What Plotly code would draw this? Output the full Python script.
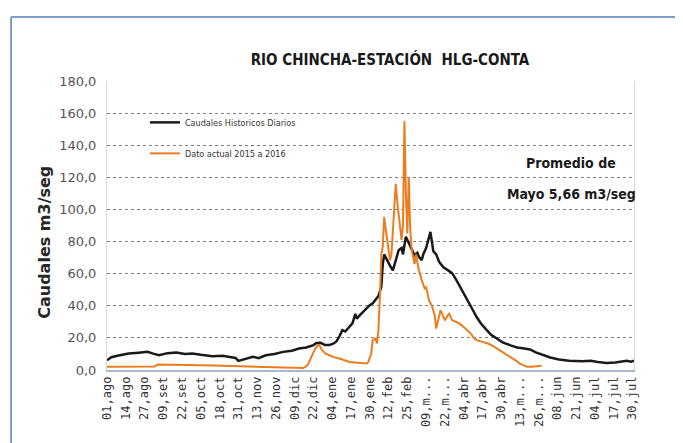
import plotly.graph_objects as go

# dia 0 = 01 ago 2015 ... dia 365 = 31 jul 2016
hist_dias = [0, 3, 8, 15, 22, 28, 32, 36, 42, 48, 54, 59, 65, 73, 80, 85, 89, 91, 95, 101,
             105, 110, 116, 122, 128, 133, 138, 143, 145, 148, 151, 154, 157, 159, 161, 163,
             165, 168, 170, 172, 173, 175, 178, 180, 182, 184, 186, 188, 190, 191, 192, 194,
             196, 198, 200, 202, 204, 205, 207, 209, 211, 213, 215, 216, 218, 219, 221, 223,
             224, 226, 228, 230, 233, 236, 239, 242, 246, 250, 253, 256, 259, 263, 266, 270,
             274, 279, 284, 288, 293, 297, 302, 307, 313, 320, 329, 335, 340, 346, 352, 356,
             360, 363, 365]
hist_caudal = [6.0, 8.0, 9.0, 10.3, 10.8, 11.3, 10.2, 9.2, 10.5, 10.9, 10.0, 10.3, 9.5, 8.6,
               8.8, 8.2, 7.5, 5.7, 6.8, 8.2, 7.4, 9.2, 10.0, 11.3, 12.0, 13.4, 14.0, 15.5,
               16.8, 16.9, 15.5, 15.5, 16.5, 18.0, 21.0, 24.8, 24.0, 26.9, 29.0, 35.0, 32.0,
               34.0, 37.0, 39.0, 40.4, 41.5, 43.5, 46.0, 52.0, 66.0, 72.0, 68.0, 65.0, 62.0,
               68.0, 74.6, 76.0, 72.0, 83.0, 79.0, 76.0, 71.5, 73.0, 70.5, 68.4, 72.0, 76.0,
               84.0, 86.0, 74.0, 72.0, 67.4, 64.0, 62.2, 60.3, 56.0, 49.7, 43.0, 38.0, 33.0,
               29.0, 24.8, 22.0, 19.6, 17.2, 15.5, 14.0, 13.5, 12.8, 11.0, 9.2, 7.8, 6.5, 5.8,
               5.5, 5.7, 5.0, 4.4, 4.6, 5.0, 5.7, 5.2, 5.8]

act_dias = [0, 10, 20, 33, 35, 45, 55, 65, 75, 85, 95, 105, 115, 125, 133, 136, 139, 141,
            142, 144, 146, 147, 149, 151, 154, 157, 161, 165, 168, 172, 178, 180, 181, 183,
            184, 185, 186, 187, 188, 189, 190, 191, 192, 193, 194, 195, 196, 197, 198, 199,
            200, 201, 202, 203, 204, 205, 206, 207, 208, 209, 210, 211, 212, 213, 214, 216,
            218, 220, 221, 223, 225, 227, 228, 229, 231, 233, 234, 236, 237, 239, 241, 244,
            247, 250, 252, 254, 256, 260, 264, 268, 272, 276, 279, 283, 286, 289, 291, 294,
            297, 301]
act_caudal = [2.0, 2.0, 2.0, 2.2, 3.4, 3.4, 3.2, 3.0, 2.8, 2.6, 2.3, 2.2, 2.0, 1.8, 1.5, 1.2,
              3.0, 7.0, 10.0, 13.0, 15.5, 15.5, 12.3, 10.5, 9.2, 8.0, 7.2, 6.0, 5.0, 4.6, 4.0,
              4.0, 5.0, 10.3, 18.6, 19.0, 19.6, 16.5, 25.0, 45.0, 72.0, 76.7, 95.4, 88.0, 80.9,
              74.0, 68.4, 72.0, 85.0, 100.0, 116.0, 105.0, 95.4, 86.0, 81.0, 90.0, 155.0,
              110.0, 85.0, 120.0, 88.0, 75.0, 70.5, 66.0, 72.0, 62.0, 56.0, 50.8, 51.8, 43.5,
              40.0, 34.0, 25.8, 30.0, 37.3, 33.0, 31.0, 34.0, 35.0, 31.0, 30.0, 29.0, 26.8,
              24.0, 22.7, 20.0, 18.6, 17.5, 16.5, 14.5, 12.3, 10.0, 8.2, 6.0, 4.0, 2.5, 2.0,
              2.0, 2.4, 2.6]

tick_dias = list(range(0, 365, 13))
tick_textos = ["01,ago", "14,ago", "27,ago", "09,set", "22,set", "05,oct", "18,oct",
               "31,oct", "13,nov", "26,nov", "09,dic", "22,dic", "04,ene", "17,ene",
               "30,ene", "12,feb", "25,feb", "09,m...", "22,m...", "04,abr", "17,abr",
               "30,abr", "13,m...", "26,m...", "08,jun", "21,jun", "04,jul", "17,jul",
               "30,jul"]

NARROW = "Liberation Sans Narrow, Arial Narrow, DejaVu Sans Condensed, sans-serif"

fig = go.Figure()
fig.add_trace(go.Scatter(x=hist_dias, y=hist_caudal, mode="lines",
                         name="Caudales Historicos Diarios", legendgroup="a",
                         line=dict(color="#1a1a1a", width=2.5)))
fig.add_trace(go.Scatter(x=act_dias, y=act_caudal, mode="lines",
                         name="Dato actual 2015 a 2016", legendgroup="b",
                         line=dict(color="#ec7c1e", width=2)))

# the page adds an 8px body margin, so the figure is 8px smaller than the window
fig.update_layout(
    width=675, height=435,
    margin=dict(l=99, r=49, t=73, b=73),
    paper_bgcolor="white", plot_bgcolor="white",
    separators=",.",
    title=dict(text="<b>RIO CHINCHA-ESTACIÓN  HLG-CONTA</b>", xref="paper",
               x=0.537, xanchor="center", y=0.8805, yanchor="middle",
               font=dict(family=NARROW, size=15, color="#1a1a1a")),
    showlegend=True,
    legend=dict(x=0.072, y=0.907, xanchor="left", yanchor="top",
                bgcolor="rgba(0,0,0,0)", tracegroupgap=12,
                font=dict(family=NARROW, size=9, color="#333333")),
    xaxis=dict(range=[0, 365], tickmode="array", tickvals=tick_dias, ticktext=tick_textos,
               tickangle=-90, showgrid=False, zeroline=False,
               showline=True, linecolor="#a9b8cc", linewidth=1.5, ticks="",
               tickfont=dict(family="DejaVu Sans Mono", size=12, color="#333333")),
    yaxis=dict(range=[0, 180], dtick=20, tickformat=".1f", showgrid=True,
               gridcolor="#7f7f7f", griddash="dot", gridwidth=1, zeroline=False,
               showline=True, mirror=True, linecolor="#d9d9d9", ticks="",
               ticklabelstandoff=7,
               tickfont=dict(family="DejaVu Sans", size=13, color="#555555")),
    annotations=[
        dict(text="<b>Caudales m3/seg</b>", xref="paper", yref="paper",
             x=-0.118, y=0.443, xanchor="center", yanchor="middle", textangle=-90,
             showarrow=False, font=dict(family="DejaVu Sans", size=16, color="#262626")),
        dict(text="<b>Promedio de</b>", xref="paper", yref="paper",
             x=(571 - 107) / 527, y=(370 - 163) / 289, xanchor="center", yanchor="middle",
             showarrow=False, font=dict(family=NARROW, size=14, color="#1a1a1a")),
        dict(text="<b>Mayo 5,66 m3/seg</b>", xref="paper", yref="paper",
             x=(571 - 107) / 527, y=(370 - 194) / 289, xanchor="center", yanchor="middle",
             showarrow=False, font=dict(family=NARROW, size=14, color="#1a1a1a")),
    ],
    shapes=[
        dict(type="line", xref="paper", yref="paper", x0=-0.182, x1=-0.182,
             y0=1.2215, y1=-0.35, line=dict(color="#7a9cc6", width=2)),
        dict(type="line", xref="paper", yref="paper", x0=-0.182, x1=1.2,
             y0=1.2215, y1=1.2215, line=dict(color="#7a9cc6", width=2)),
    ],
)

fig.write_html("out.html")
